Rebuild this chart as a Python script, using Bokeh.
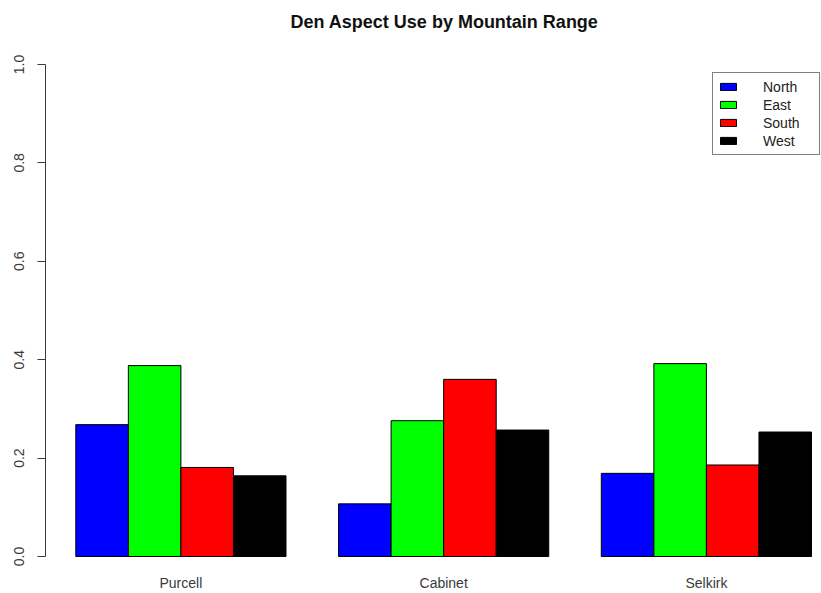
from bokeh.plotting import figure
from bokeh.models import FixedTicker, Range1d, Legend, LegendItem, ColumnDataSource
from bokeh.embed import file_html
from bokeh.resources import INLINE

# ---- data ----
ranges = ["Purcell", "Cabinet", "Selkirk"]
aspects = ["North", "East", "South", "West"]
north = [0.268, 0.107, 0.169]
east = [0.388, 0.276, 0.392]
south = [0.181, 0.360, 0.186]
west = [0.164, 0.257, 0.253]
colors = ["#0000FF", "#00FF00", "#FF0000", "#000000"]
y_ticks = [0.0, 0.2, 0.4, 0.6, 0.8, 1.0]
y_tick_labels = ["0.0", "0.2", "0.4", "0.6", "0.8", "1.0"]
title_text = "Den Aspect Use by Mountain Range"

series = [north, east, south, west]
n_asp = len(aspects)
group_step = n_asp + 1  # R barplot: width 1, one bar-width gap between groups

FONT = "Liberation Sans"
AX_COL = "#3a3a3a"

p = figure(width=821, height=593, output_backend="svg", toolbar_location=None,
           x_range=Range1d(0.4234, 15.19), y_range=Range1d(-0.0203, 1.0568),
           min_border_left=45, min_border_right=0, min_border_top=36,
           min_border_bottom=26, title=title_text)
p.outline_line_color = None
p.xgrid.visible = False
p.ygrid.visible = False
p.background_fill_color = "white"

p.title.text_font = FONT
p.title.text_font_size = "18px"
p.title.text_font_style = "bold"
p.title.text_color = "#111111"
p.title.align = "left"
p.title.offset = 245
p.title.standoff = 10

renderers = []
for k, (name, vals, col) in enumerate(zip(aspects, series, colors)):
    xs = [1 + g * group_step + k + 0.5 for g in range(len(ranges))]
    src = ColumnDataSource(dict(x=xs, top=vals, rng=ranges))
    r = p.vbar(x="x", top="top", bottom=0, width=1.0, source=src,
               fill_color=col, line_color="black", line_width=1)
    renderers.append((name, r))

# y axis (R style)
ya = p.yaxis[0]
ya.ticker = FixedTicker(ticks=y_ticks)
ya.major_label_overrides = {t: lab for t, lab in zip(y_ticks, y_tick_labels)}
ya.bounds = (y_ticks[0], y_ticks[-1])
ya.minor_tick_line_color = None
ya.major_tick_in = 0
ya.major_tick_out = 8
ya.major_label_standoff = 13
ya.major_label_orientation = "vertical"
ya.major_label_text_font = FONT
ya.major_label_text_font_size = "14px"
ya.major_label_text_color = AX_COL
ya.axis_line_color = AX_COL
ya.major_tick_line_color = AX_COL

# x axis: group names only
centers = [1 + g * group_step + (n_asp - 1) / 2 + 0.5 for g in range(len(ranges))]
xa = p.xaxis[0]
xa.ticker = FixedTicker(ticks=centers)
xa.major_label_overrides = {c: r for c, r in zip(centers, ranges)}
xa.axis_line_color = None
xa.major_tick_line_color = None
xa.minor_tick_line_color = None
xa.major_tick_in = 0
xa.major_tick_out = 0
xa.major_label_standoff = 8
xa.major_label_text_font = FONT
xa.major_label_text_font_size = "14px"
xa.major_label_text_color = AX_COL

legend = Legend(items=[LegendItem(label=n, renderers=[r]) for n, r in renderers],
                location=(667, 411), orientation="vertical",
                border_line_color="black", border_line_width=1,
                background_fill_color="white", background_fill_alpha=1.0,
                padding=5, spacing=1, margin=0,
                label_height=17, glyph_height=9, glyph_width=20,
                label_standoff=25, label_width=51,
                label_text_font=FONT, label_text_font_size="14px",
                label_text_color="#222222")
p.add_layout(legend)

open("out.html", "w").write(file_html(p, INLINE))
